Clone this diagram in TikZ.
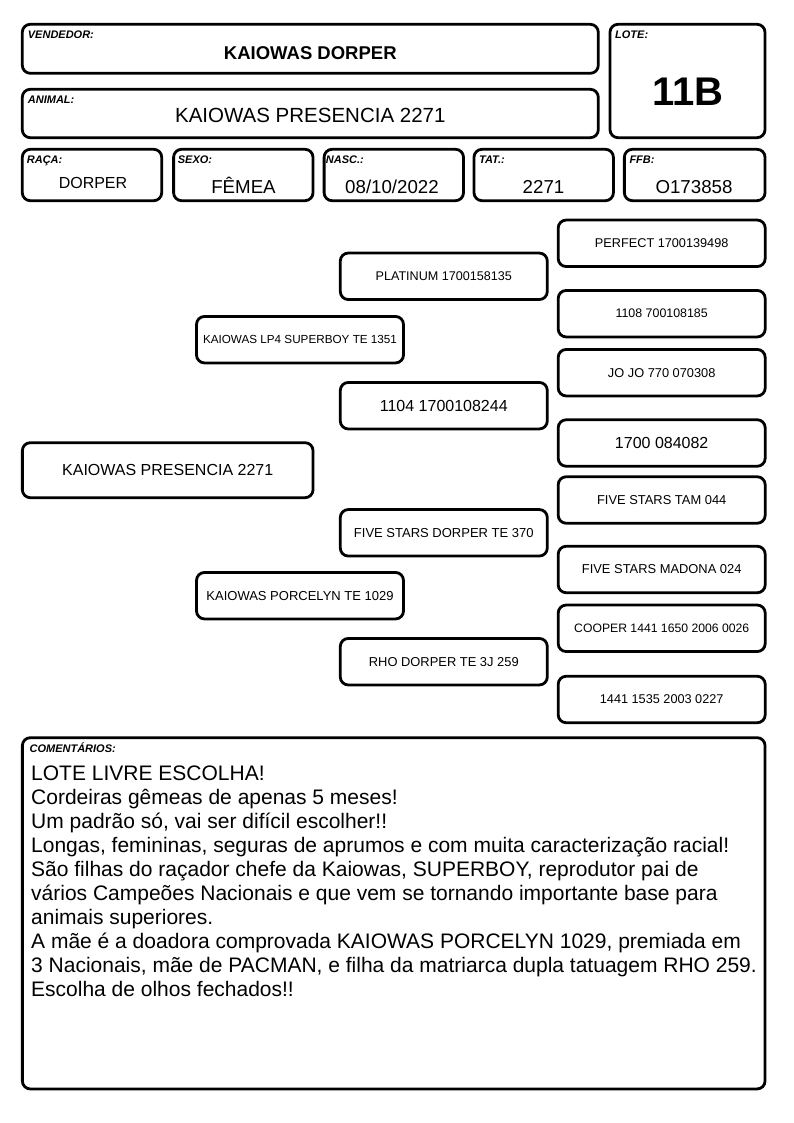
\documentclass[tikz,border=0pt]{standalone}
\usepackage{fontspec}
\setmainfont{Liberation Sans}
\newcommand{\myfs}[1]{\fontsize{#1}{#1}\selectfont}
\tikzset{
  rbox/.style={draw=black, line width=2.8pt, rounded corners=8pt, inner sep=0pt, fill=white},
  pbox/.style={rbox, minimum width=207, minimum height=46.5, font=\myfs{12.7}},
  lab/.style={anchor=base west, inner sep=0pt, font=\myfs{11}\bfseries\itshape},
  val/.style={anchor=base, inner sep=0pt},
  cline/.style={anchor=base west, inner sep=0pt, font=\myfs{21}},
}
\begin{document}
\begin{tikzpicture}[x=1pt, y=-1pt]
\fill[white] (0,0) rectangle (794,1123);
\useasboundingbox (0,0) rectangle (794,1123);

% header boxes
\node[rbox, minimum width=576, minimum height=49] (vend) at (310.3,48.8) {};
\node[rbox, minimum width=576, minimum height=48.4] (anim) at (310.3,113.5) {};
\node[rbox, minimum width=155, minimum height=113.4] (lote) at (687.5,81) {};
\node[rbox, minimum width=139.4, minimum height=51.4] (raca) at (92,175) {};
\node[rbox, minimum width=139.4, minimum height=51.4] (sexo) at (243.3,175) {};
\node[rbox, minimum width=139.4, minimum height=51.4] (nasc) at (393.8,175) {};
\node[rbox, minimum width=139.4, minimum height=51.4] (tat) at (543.7,175) {};
\node[rbox, minimum width=140.7, minimum height=51.4] (ffb) at (694.7,175) {};

% labels
\node[lab] (lvend) at (27.7,39) {VENDEDOR:};
\node[lab] (lanim) at (27.7,103.3) {ANIMAL:};
\node[lab] (llote) at (615,39) {LOTE:};
\node[lab] (lraca) at (26.7,163.3) {RAÇA:};
\node[lab] (lsexo) at (177.7,163.3) {SEXO:};
\node[lab] (lnasc) at (325.7,163.3) {NASC.:};
\node[lab] (ltat) at (479,163.3) {TAT.:};
\node[lab] (lffb) at (629.3,163.3) {FFB:};

% values
\node[val, font=\myfs{18.5}\bfseries] (tvend) at (310.3,60) {KAIOWAS DORPER};
\node[val, font=\myfs{20.5}] (tanim) at (310.3,122.7) {KAIOWAS PRESENCIA 2271};
\node[val, font=\myfs{40}\bfseries] (tlote) at (688,106) {11B};
\node[val, font=\myfs{16}] (traca) at (93,188.3) {DORPER};
\node[val, font=\myfs{18.7}] (tsexo) at (243.5,193.3) {FÊMEA};
\node[val, font=\myfs{18.7}] (tnasc) at (392,193.3) {08/10/2022};
\node[val, font=\myfs{18.7}] (ttat) at (543.5,193.3) {2271};
\node[val, font=\myfs{18.7}] (tffb) at (694,193.3) {O173858};

% pedigree
\node[rbox, minimum width=290.7, minimum height=55, font=\myfs{16}] (g1) at (167.7,470.2) {KAIOWAS PRESENCIA 2271};

\node[pbox, font=\myfs{11.7}] (g2a) at (300,339.7) {KAIOWAS LP4 SUPERBOY TE 1351};
\node[pbox, font=\myfs{13}] (g2b) at (300,595.7) {KAIOWAS PORCELYN TE 1029};

\node[pbox, font=\myfs{12.6}] (g3a) at (443.8,276.3) {PLATINUM 1700158135};
\node[pbox, font=\myfs{16}] (g3b) at (443.8,405.7) {1104 1700108244};
\node[pbox, font=\myfs{13}] (g3c) at (443.8,532.8) {FIVE STARS DORPER TE 370};
\node[pbox, font=\myfs{12.9}] (g3d) at (443.8,661.7) {RHO DORPER TE 3J 259};

\node[pbox, font=\myfs{12.7}] (g4a) at (661.7,243.3) {PERFECT 1700139498};
\node[pbox, font=\myfs{12.4}] (g4b) at (661.7,313.7) {1108 700108185};
\node[pbox, font=\myfs{12.8}] (g4c) at (661.7,372.7) {JO JO 770 070308};
\node[pbox, font=\myfs{16}] (g4d) at (661.7,443) {1700 084082};
\node[pbox, font=\myfs{12.9}] (g4e) at (661.7,500) {FIVE STARS TAM 044};
\node[pbox, font=\myfs{12.9}] (g4f) at (661.7,569.5) {FIVE STARS MADONA 024};
\node[pbox, font=\myfs{12.2}] (g4g) at (661.7,628.3) {COOPER 1441 1650 2006 0026};
\node[pbox, font=\myfs{12.7}] (g4h) at (661.7,699.5) {1441 1535 2003 0227};

% comments
\node[rbox, minimum width=742.7, minimum height=351.3] (com) at (393.7,913.3) {};
\node[lab] (lcom) at (29.4,752.7) {COMENTÁRIOS:};
\node[cline] (c1) at (31,780.6) {LOTE LIVRE ESCOLHA!};
\node[cline] (c2) at (31,804.6) {Cordeiras gêmeas de apenas 5 meses!};
\node[cline] (c3) at (31,828.6) {Um padrão só, vai ser difícil escolher!!};
\node[cline] (c4) at (31,852.6) {Longas, femininas, seguras de aprumos e com muita caracterização racial!};
\node[cline] (c5) at (31,876.6) {São filhas do raçador chefe da Kaiowas, SUPERBOY, reprodutor pai de};
\node[cline] (c6) at (31,900.6) {vários Campeões Nacionais e que vem se tornando importante base para};
\node[cline] (c7) at (31,924.6) {animais superiores.};
\node[cline] (c8) at (31,948.6) {A mãe é a doadora comprovada KAIOWAS PORCELYN 1029, premiada em};
\node[cline] (c9) at (31,972.6) {3 Nacionais, mãe de PACMAN, e filha da matriarca dupla tatuagem RHO 259.};
\node[cline] (c10) at (31,996.6) {Escolha de olhos fechados!!};
\end{tikzpicture}
\end{document}
